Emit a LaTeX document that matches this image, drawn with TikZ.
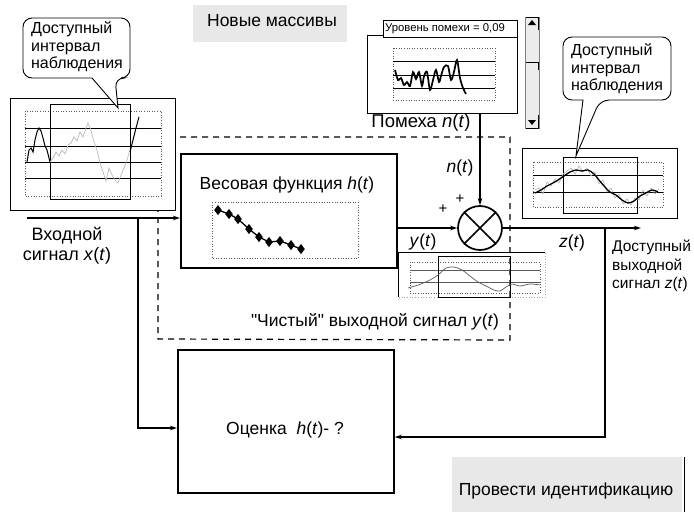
\documentclass[tikz,border=0pt]{standalone}
\usepackage{fontspec}
\setmainfont{Liberation Sans}[Ligatures=TeXOff]
\usetikzlibrary{arrows.meta,plotmarks}
\begin{document}
\begin{tikzpicture}[x=1pt,y=-1pt,
  every node/.style={inner sep=0pt},
  lbl/.style={font=\fontsize{17.5}{20}\selectfont},
  calltext/.style={font=\fontsize{16}{17.5}\selectfont},
  thickbox/.style={draw,line width=1.7pt,fill=white},
  frame/.style={draw,line width=0.9pt},
  wframe/.style={draw,line width=0.9pt,fill=white},
  plotarea/.style={draw,dotted,line width=0.6pt,gray!70!black},
  gridl/.style={draw,line width=0.9pt},
  conn/.style={line width=1.2pt,-{Stealth[length=7pt,width=4.5pt]}},
  dashbox/.style={draw,dashed,line width=1.2pt,dash pattern=on 6pt off 5pt},
  callout/.style={draw,line width=0.9pt,fill=white},
  greypanel/.style={fill=gray!18},
  sig/.style={line width=1pt},
]
\useasboundingbox (0,0) rectangle (694,512);

% dashed "pure system" frame
\draw[dashbox] (158,137) -- (510,137) -- (510,340) -- (158,339) -- cycle;

% ---- grey panels
\fill[greypanel] (193,5) rectangle (347,42);
\node[lbl] (newarr) at (272,21) {Новые массивы};
\fill[greypanel] (452,457) rectangle (682,512);
\node[lbl] (identify) at (566,491) {Провести идентификацию};
\draw[line width=1pt] (684,457) -- (684,512);

% ---- left chart
\draw[wframe] (10,98) rectangle (175,210);
\draw[plotarea] (25,111) rectangle (161,196);
\foreach \yy in {128,146,162,178} \draw[gridl] (25,\yy) -- (161,\yy);
\draw[frame] (50,104) rectangle (130,199);
\draw[sig] plot coordinates {(27,162) (29,150) (31,148) (33,152) (35,140) (37,132) (39,128) (41,131) (43,138) (45,146) (47,150) (50,162)};
\draw[line width=0.7pt,gray!55] plot coordinates {(50,162) (53,158) (56,152) (59,156) (62,150) (65,154) (68,145) (71,143) (74,137) (77,141) (80,132) (83,137) (86,128) (88,123) (91,130) (94,142) (97,150) (100,163) (103,172) (106,181) (109,168) (112,175) (115,180) (118,183) (121,175) (124,168) (127,160) (130,150)};
\draw[sig] plot coordinates {(130,152) (133,140) (136,128) (139,117)};

% left callout
\draw[callout,rounded corners=9pt] (23,18) -- (130,18) -- (130,78) -- (115,78) [sharp corners] -- (118,108) -- (92,78) [rounded corners=9pt] -- (23,78) -- cycle;
\node[calltext,align=left] (lcall) at (77,47) {Доступный\\интервал\\наблюдения};

% ---- input
\coordinate (xin) at (27,218);
\coordinate (jx) at (138,218);
\node[font=\fontsize{18}{20}\selectfont,align=center] (xlabel) at (67,246) {Входной\\сигнал \textit{x}(\textit{t})};

% ---- weight box
\node[thickbox,minimum width=216pt,minimum height=114pt,anchor=north west] (wbox) at (180,153) {};
\node[lbl] (wtitle) at (287,185) {Весовая функция \textit{h}(\textit{t})};
\draw[plotarea] (212,202) rectangle (358,258);
\draw[line width=1.3pt] plot[mark=diamond*,mark size=4pt,mark options={solid,fill=black}] coordinates {(218,210) (229,214) (238,219) (249,229) (259,237) (269,242) (280,241) (291,245) (301,249)};

\draw[conn] (xin) -- (xin -| wbox.west);

% ---- estimation box
\node[thickbox,minimum width=216pt,minimum height=143pt,anchor=north west] (ebox) at (177,349) {};
\node[lbl] (etitle) at (285,430) {Оценка \ \textit{h}(\textit{t})- ?};

% ---- summator
\node[draw,circle,line width=1.7pt,minimum size=44pt,fill=white] (sum) at (480,228) {};
\draw[line width=1.7pt] (sum.north west) -- (sum.south east) (sum.north east) -- (sum.south west);
\draw[conn] (sum -| wbox.east) -- (sum.west);
\node[font=\fontsize{15}{16}\selectfont] (plus1) at (443,209) {+};
\node[font=\fontsize{15}{16}\selectfont] (plus2) at (460,199) {+};
\node[lbl] (ylab) at (423,242) {\textit{y}(\textit{t})};
\node[lbl] (nlab) at (460,168) {\textit{n}(\textit{t})};

% ---- noise window
\draw[wframe] (367,35) rectangle (517,113);
\node[draw,line width=0.9pt,fill=white,anchor=north west,minimum width=134pt,minimum height=17pt] (ntitle) at (383,20) {};
\node[font=\fontsize{11.3}{12}\selectfont] (ntext) at (445,29) {Уровень помехи = 0,09};
\draw[plotarea] (393,48) rectangle (495,100);
\foreach \yy in {61,75,88} \draw[gridl] (393,\yy) -- (495,\yy);
\draw[line width=1.7pt] plot[smooth,tension=0.5] coordinates {(395,70) (398,80) (401,78) (404,85) (407,82) (410,86) (413,72) (416,79) (419,72) (422,86) (424,76) (427,72) (430,90) (433,80) (436,70) (439,82) (441,76) (444,67) (448,66) (451,80) (454,72) (457,60) (460,78) (463,88) (466,94)};
\node[font=\fontsize{18.5}{20}\selectfont] (nname) at (421,123) {Помеха \textit{n}(\textit{t})};
% scrollbar
\fill[gray!15] (525,17) rectangle (539,128);
\draw[line width=0.6pt,gray] (525,17) rectangle (539,128);
\draw[line width=1pt] (526,17) -- (538,17) -- (538,30);
\fill (528,25) -- (536,25) -- (532,20) -- cycle;
\fill (528,120) -- (536,120) -- (532,125) -- cycle;
\draw[line width=1pt] (526,62) -- (538,62) -- (538,70);
\draw[line width=1pt] (526,128) -- (538,128) -- (538,115);

\coordinate (nout) at (480,113);
\draw[conn] (nout) -- (sum.north);

% ---- y(t) chart
\draw[gray!70,line width=0.7pt,dotted] (398,252) rectangle (545,297);
\draw[line width=0.9pt] (398,297) -- (398,252) -- (545,252);
\draw[plotarea] (410,262) rectangle (540,293);
\foreach \yy in {270,282} \draw[line width=0.6pt,gray!70!black] (410,\yy) -- (540,\yy);
\draw[frame] (438,256) rectangle (510,297);
\draw[line width=0.7pt,gray!70!black] plot[smooth] coordinates {(408,288) (418,285) (428,281) (438,275) (446,268) (454,267) (462,270) (470,276) (478,282) (486,286) (494,290) (500,291) (506,287) (512,284) (520,286) (530,284) (540,285)};

% ---- output
\coordinate (zout) at (641,228);
\coordinate (jz) at (605,228);
\draw[conn] (sum.east) -- (zout);
\node[lbl] (zlab) at (572,243) {\textit{z}(\textit{t})};
\node[font=\fontsize{15.5}{18.5}\selectfont,align=left,anchor=north west] (zlabel) at (612,240) {Доступный\\выходной\\сигнал \textit{z}(\textit{t})};

% ---- right chart
\draw[wframe] (522,148) rectangle (677,218);
\draw[plotarea] (533,162) rectangle (663,207);
\foreach \yy in {175,192} \draw[gridl] (533,\yy) -- (663,\yy);
\draw[frame] (563,157) rectangle (637,213);
\draw[line width=0.6pt,gray!60] plot coordinates {(535,190) (539,188) (543,194) (547,182) (551,186) (555,179) (559,183) (563,174) (567,171) (571,168) (575,174) (579,166) (583,172) (587,168) (591,176) (595,172) (599,184) (603,180) (607,192) (611,188) (615,198) (619,194) (623,204) (627,199) (631,205) (635,198) (639,200) (643,190) (647,196) (651,188) (655,194) (659,189)};
\draw[line width=1.3pt] plot[smooth] coordinates {(535,193) (541,190) (547,186) (553,183) (558,180) (564,176) (570,172) (576,170) (582,171) (588,170) (594,174) (599,180) (604,186) (610,192) (616,195) (622,200) (628,203) (634,201) (640,196) (646,193) (652,190) (658,192)};

% right callout
\draw[callout,rounded corners=9pt] (563,37) -- (671,37) -- (671,100) -- (600,100) [sharp corners] -- (576,156) -- (583,100) [rounded corners=9pt] -- (563,100) -- cycle;
\node[calltext,align=left] (rcall) at (617,69) {Доступный\\интервал\\наблюдения};

% ---- dashed label
\node[lbl] (pure) at (375,322) {"Чистый" выходной сигнал \textit{y}(\textit{t})};

% ---- feedback connectors
\draw[conn] (jx) |- (ebox.west |- 0,428);
\draw[conn] (jz) |- (ebox.east |- 0,437);
\end{tikzpicture}
\end{document}
